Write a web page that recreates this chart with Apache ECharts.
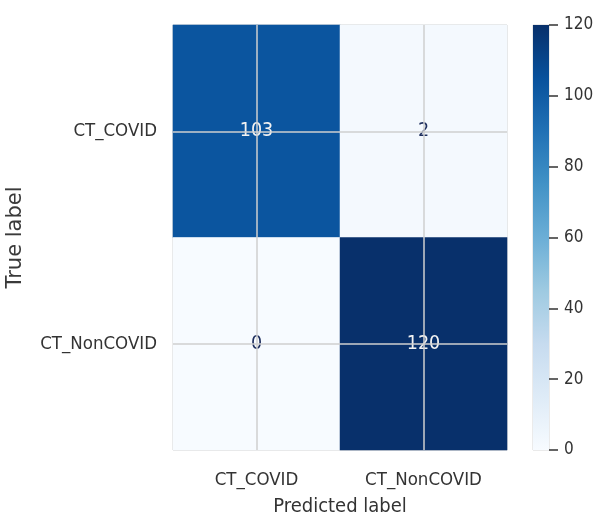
<!DOCTYPE html>
<html>
<head>
<meta charset="utf-8">
<script src="https://cdn.jsdelivr.net/npm/echarts@6/dist/echarts.min.js"></script>
<style>
  html, body { margin: 0; padding: 0; background: #fff; }
  #chart { width: 597px; height: 523px; }
</style>
</head>
<body>
<div id="chart"></div>
<script>
// Confusion matrix data
const predictedLabels = ['CT_COVID', 'CT_NonCOVID'];
const trueLabels = ['CT_COVID', 'CT_NonCOVID'];
// counts[row = true label][col = predicted label]
const counts = [
  [103, 2],
  [0, 120]
];
const colorbarTicks = [0, 20, 40, 60, 80, 100, 120];
const colorMin = 0;
const colorMax = 120;

// matplotlib "Blues" colormap stops
const blues = ['#f7fbff', '#deebf7', '#c6dbef', '#9ecae1', '#6baed6', '#4292c6', '#2171b5', '#08519c', '#08306b'];

const FONT = 'DejaVu Sans Condensed, DejaVu Sans, sans-serif';
const TEXT = '#333333';

// heatmap cells: [col, row, value]; rows drawn top-to-bottom
const cells = counts.flatMap((row, r) => row.map((v, c) => [c, r, v]));

const chart = echarts.init(document.getElementById('chart'), null, { renderer: 'canvas' });

chart.setOption({
  animation: false,
  backgroundColor: '#ffffff',
  textStyle: { fontFamily: FONT },
  grid: [
    { left: 173, top: 25, width: 334, height: 425, outerBoundsMode: 'none', containLabel: false,
      show: true, borderColor: '#c8c8c8', borderWidth: 1, backgroundColor: 'transparent' },
    { left: 533, top: 25, width: 16, height: 425, outerBoundsMode: 'none', containLabel: false,
      show: true, borderColor: '#d6d6d6', borderWidth: 1 }
  ],
  xAxis: [
    {
      type: 'category', gridIndex: 0, data: predictedLabels,
      name: 'Predicted label', nameLocation: 'middle', nameGap: 47,
      nameTextStyle: { fontSize: 20, color: TEXT, fontFamily: FONT },
      axisLine: { show: false }, axisTick: { show: false }, splitLine: { show: false },
      axisLabel: { fontSize: 18.5, color: TEXT, margin: 21, fontFamily: FONT }
    },
    {
      type: 'category', gridIndex: 1, data: ['bar'],
      axisLine: { show: false }, axisTick: { show: false }, axisLabel: { show: false }, splitLine: { show: false }
    }
  ],
  yAxis: [
    {
      type: 'category', gridIndex: 0, data: trueLabels, inverse: true,
      name: 'True label', nameLocation: 'middle', nameGap: 147, nameRotate: 90,
      nameTextStyle: { fontSize: 21, color: '#3a3a3a', fontFamily: 'DejaVu Sans, sans-serif' },
      axisLine: { show: false }, axisTick: { show: false }, splitLine: { show: false },
      axisLabel: { fontSize: 18.5, color: TEXT, margin: 16, fontFamily: FONT }
    },
    {
      type: 'value', gridIndex: 1, position: 'right',
      min: colorMin, max: colorMax, interval: 20,
      axisLine: { show: false },
      axisTick: { show: true, length: 9, lineStyle: { color: '#333', width: 1.5 } },
      axisLabel: { fontSize: 17, color: TEXT, margin: 15, fontFamily: FONT,
        formatter: v => (colorbarTicks.indexOf(v) >= 0 ? String(v) : '') },
      splitLine: { show: false }
    }
  ],
  visualMap: {
    show: false, type: 'continuous', seriesIndex: 0,
    min: colorMin, max: colorMax, inRange: { color: blues }
  },
  series: [
    {
      type: 'heatmap', xAxisIndex: 0, yAxisIndex: 0,
      // dark text on light cells, light text on dark cells
      data: cells.map(d => ({
        value: d,
        label: { color: d[2] > colorMax / 2 ? '#f2f2f2' : '#1e2f5e' }
      })),
      label: {
        show: true, fontSize: 19.5, fontFamily: FONT,
        formatter: p => String(p.value[2])
      },
      itemStyle: { borderWidth: 0 },
      emphasis: { disabled: true },
      markLine: {
        silent: true, symbol: 'none', animation: false,
        label: { show: false },
        lineStyle: { color: '#cfcfcf', width: 1.5, type: 'solid' },
        data: [{ xAxis: 0 }, { xAxis: 1 }, { yAxis: 0 }, { yAxis: 1 }]
      }
    },
    {
      // colorbar drawn as one full-height bar with a vertical Blues gradient
      type: 'bar', xAxisIndex: 1, yAxisIndex: 1, data: [colorMax],
      barWidth: '100%', silent: true,
      itemStyle: {
        color: new echarts.graphic.LinearGradient(0, 1, 0, 0,
          blues.map((c, i) => ({ offset: i / (blues.length - 1), color: c })))
      }
    }
  ]
});
</script>
</body>
</html>
